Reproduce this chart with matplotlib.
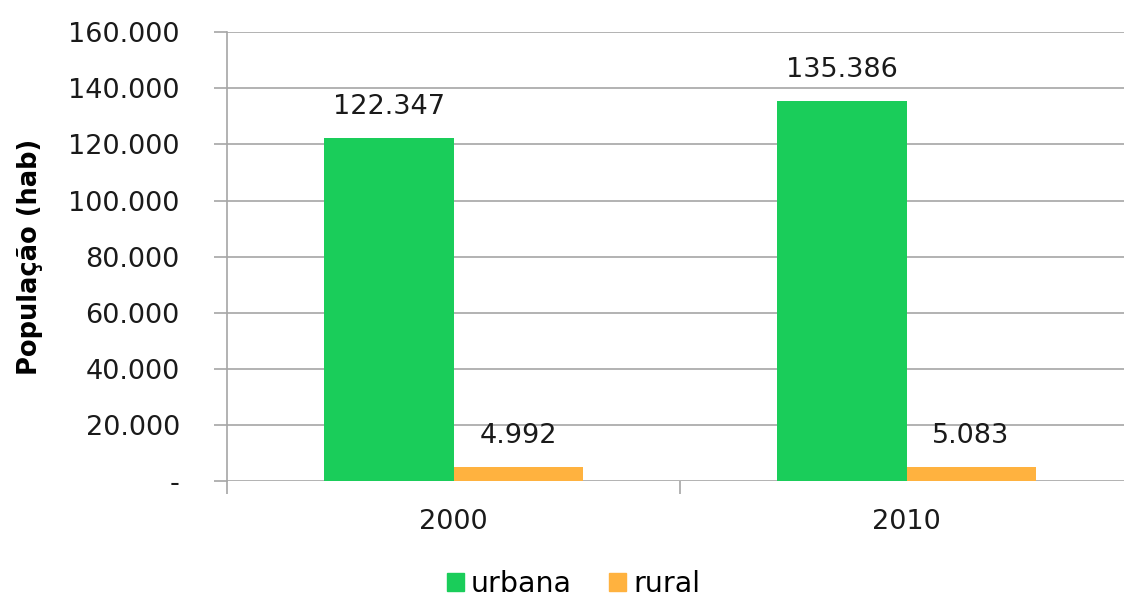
import matplotlib
matplotlib.use("Agg")
import matplotlib.pyplot as plt
import matplotlib.ticker as mticker
import numpy as np
from matplotlib.patches import Patch

# population by census year
years = ["2000", "2010"]
urbana = [122347, 135386]
rural = [4992, 5083]

GREEN = "#1acd5a"
ORANGE = "#ffb23f"
GRID = "#a6a6a6"
TEXT = "#1a1a1a"
FS = 19.5

plt.rcParams["font.family"] = ["DejaVu Sans"]


def fmt_thousands(v, _pos=None):
    if v == 0:
        return "-"
    return f"{int(v):,}".replace(",", ".")


fig = plt.figure(figsize=(11.24, 5.97), dpi=100)
# axes run a little past the right edge so each category gets ~453 px
ax = fig.add_axes([0.202, 0.194, 0.806, 0.752])

x = np.arange(len(years))
w = 0.285
b1 = ax.bar(x - w / 2, urbana, w, color=GREEN, zorder=3)
b2 = ax.bar(x + w / 2, rural, w, color=ORANGE, zorder=3)

for bars in (b1, b2):
    for rect in bars:
        h = rect.get_height()
        ax.annotate(fmt_thousands(h), (rect.get_x() + rect.get_width() / 2, h),
                    xytext=(0, 13), textcoords="offset points",
                    ha="center", va="bottom", fontsize=FS, color=TEXT)

ax.set_ylim(0, 160000)
ax.set_xlim(-0.5, 1.5)
ax.yaxis.set_major_locator(mticker.MultipleLocator(20000))
ax.yaxis.set_major_formatter(mticker.FuncFormatter(fmt_thousands))
ax.grid(axis="y", color=GRID, linewidth=1.2, zorder=0)

# category labels in the middle, ticks on the boundaries
ax.set_xticks([-0.5, 0.5, 1.5])
ax.set_xticklabels([])
ax.set_xticks(x, minor=True)
ax.set_xticklabels(years, minor=True)
ax.tick_params(axis="x", which="major", length=9, width=1.2, color=GRID)
ax.tick_params(axis="x", which="minor", length=0, pad=20, labelsize=FS,
               labelcolor=TEXT)
ax.tick_params(axis="y", length=9.5, width=1.2, color=GRID, labelsize=FS, pad=24.5,
               labelcolor=TEXT)

for s in ("top", "right", "bottom"):
    ax.spines[s].set_visible(False)
ax.spines["left"].set_color(GRID)
ax.spines["left"].set_linewidth(1.2)

ax.set_ylabel("População (hab)", fontsize=18.5, fontweight="bold", labelpad=18,
              color="black")

handles = [Patch(color=GREEN, label="urbana"), Patch(color=ORANGE, label="rural")]
fig.legend(handles=handles, loc="lower center", bbox_to_anchor=(0.51, -0.045),
           ncol=2, frameon=False, fontsize=FS + 1, handlelength=0.6,
           handleheight=0.6, handletextpad=0.25, columnspacing=1.3)

fig.savefig("out.png", dpi=100)
